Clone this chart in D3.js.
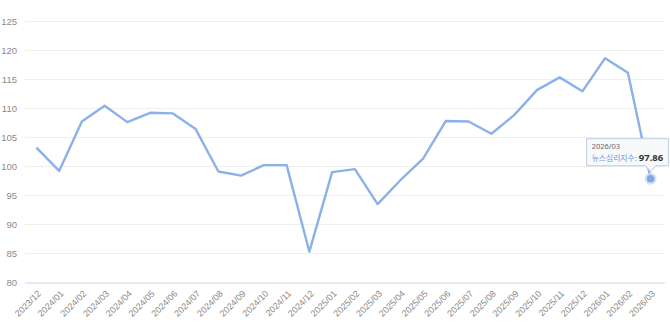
<!DOCTYPE html>
<html><head><meta charset="utf-8">
<script src="https://cdn.jsdelivr.net/npm/d3@7"></script>
<style>
html,body{margin:0;padding:0;background:#fff;}
svg{display:block;font-family:"Noto Sans","Noto Sans CJK KR",sans-serif;}
</style></head>
<body><svg id="chart" width="670" height="322"></svg>
<script>
const categories = ["2023/12","2024/01","2024/02","2024/03","2024/04","2024/05","2024/06","2024/07","2024/08","2024/09","2024/10","2024/11","2024/12","2025/01","2025/02","2025/03","2025/04","2025/05","2025/06","2025/07","2025/08","2025/09","2025/10","2025/11","2025/12","2026/01","2026/02","2026/03"];
const values = [103.2,99.2,107.7,110.4,107.6,109.2,109.1,106.4,99.1,98.4,100.2,100.2,85.3,99.0,99.5,93.5,97.6,101.3,107.8,107.7,105.6,108.8,113.1,115.3,112.9,118.6,116.1,97.86];
const yTicks = [80,85,90,95,100,105,110,115,120,125];
const seriesName = "뉴스심리지수";

const svg = d3.select("#chart");
const x = d3.scaleBand().domain(categories).range([25, 662]);
const y = d3.scaleLinear().domain([80,125]).range([282.5, 21]);
const cx = d => x(d) + x.bandwidth()/2;

// grid
svg.append("g").selectAll("line").data(yTicks.filter(t=>t>80)).join("line")
  .attr("x1",25).attr("x2",665).attr("y1",d=>Math.round(y(d))+0.5).attr("y2",d=>Math.round(y(d))+0.5)
  .attr("stroke","#efefef").attr("stroke-width",1);
svg.append("line").attr("x1",25).attr("x2",665).attr("y1",283).attr("y2",283)
  .attr("stroke","#dde4f0").attr("stroke-width",1.5);

// y labels
const yAxis = svg.append("g").attr("transform","translate(17,0)")
  .call(d3.axisLeft(y).tickValues(yTicks).tickSize(0).tickPadding(0));
yAxis.select(".domain").remove();
yAxis.selectAll("text").attr("fill","#8a8a8a").style("font-size","9.5px");

// x labels
const xAxis = svg.append("g").attr("transform","translate(0,289)")
  .call(d3.axisBottom(x).tickSize(0).tickPadding(0));
xAxis.select(".domain").remove();
xAxis.selectAll("text").attr("fill","#8a8a8a").style("font-size","9px")
  .attr("text-anchor","end").attr("dy","0.35em").attr("transform","translate(3,3) rotate(-45)");

// line
const line = d3.line().x((d,i)=>cx(categories[i])).y(d=>y(d));
svg.append("path").datum(values).attr("d",line).attr("fill","none")
  .attr("stroke","#8bb2e8").attr("stroke-width",2.4).attr("stroke-linejoin","round");

// highlighted point
const li = values.length-1;
const px = cx(categories[li]), py = y(values[li]);
svg.append("circle").attr("cx",px).attr("cy",py).attr("r",6).attr("fill","#c9dbf5").attr("opacity",0.8);
svg.append("circle").attr("cx",px).attr("cy",py).attr("r",3.8).attr("fill","#7ea8e3");

// tooltip
const tw = 82, th = 27;
const tx = px - 64, ty = py - 40;
const tip = svg.append("g");
tip.append("path")
  .attr("d",`M${tx},${ty} h${tw} v${th} H${px+5} l-5,6 l-5,-6 H${tx} Z`)
  .attr("fill","#f8f9fb").attr("stroke","#bccde6").attr("stroke-width",1);
tip.append("text").attr("x",tx+5).attr("y",ty+10).text(categories[li])
  .attr("fill","#666").style("font-size","7.5px");
const t2 = tip.append("text").attr("x",tx+5).attr("y",ty+22).style("font-size","7.8px");
t2.append("tspan").attr("fill","#6f9ad8").text(seriesName+": ");
t2.append("tspan").attr("fill","#333").attr("font-weight","bold").style("font-size","9.5px").text(values[li].toFixed(2));
</script></body></html>
